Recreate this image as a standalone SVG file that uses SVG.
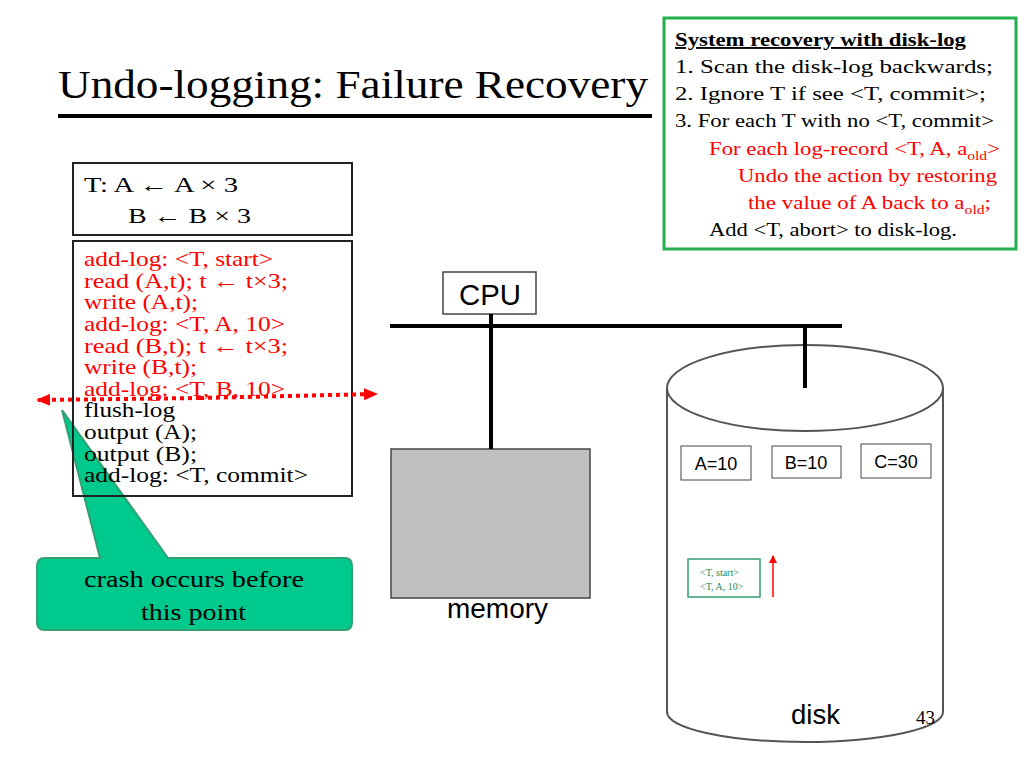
<svg xmlns="http://www.w3.org/2000/svg" width="1024" height="768" viewBox="0 0 1024 768">
<style>
.t{font-family:"Liberation Serif",serif;}
.s{font-family:"Liberation Sans",sans-serif;}
.r{fill:#ff0000}
</style>
<defs>
<marker id="ah" markerWidth="8" markerHeight="8" refX="7" refY="4" orient="auto" markerUnits="userSpaceOnUse"><path d="M0,0 L8,4 L0,8 z" fill="#ff0000"/></marker>
<marker id="ar" markerWidth="14" markerHeight="12" refX="12" refY="6" orient="auto" markerUnits="userSpaceOnUse"><path d="M0,0 L14,6 L0,12 z" fill="#ff0000"/></marker>
</defs>
<rect width="1024" height="768" fill="#fff"/>
<text class="t" x="58" y="98" font-size="41" textLength="590" lengthAdjust="spacingAndGlyphs">Undo-logging: Failure Recovery</text>
<line x1="58" y1="116" x2="652" y2="116" stroke="#000" stroke-width="4"/>
<g id="recovery">
<rect x="664" y="18" width="352" height="231" fill="#fff" stroke="#22b04c" stroke-width="3"/>
<text class="t" font-size="19" x="675" y="46" font-weight="bold" text-decoration="underline" textLength="291" lengthAdjust="spacingAndGlyphs">System recovery with disk-log</text>
<text class="t" font-size="19" x="675" y="73" textLength="318" lengthAdjust="spacingAndGlyphs">1. Scan the disk-log backwards;</text>
<text class="t" font-size="19" x="675" y="100" textLength="311" lengthAdjust="spacingAndGlyphs">2. Ignore T if see &lt;T, commit&gt;;</text>
<text class="t" font-size="19" x="675" y="127" textLength="319" lengthAdjust="spacingAndGlyphs">3. For each T with no &lt;T, commit&gt;</text>
<text class="t r" font-size="19" x="709" y="155" textLength="291" lengthAdjust="spacingAndGlyphs">For each log-record &lt;T, A, a<tspan font-size="13" dy="5">old</tspan><tspan dy="-5">&gt;</tspan></text>
<text class="t r" font-size="19" x="738" y="182" textLength="259" lengthAdjust="spacingAndGlyphs">Undo the action by restoring</text>
<text class="t r" font-size="19" x="748" y="209" textLength="243" lengthAdjust="spacingAndGlyphs">the value of A back to a<tspan font-size="13" dy="5">old</tspan><tspan dy="-5">;</tspan></text>
<text class="t" font-size="19" x="709" y="236" textLength="248" lengthAdjust="spacingAndGlyphs">Add &lt;T, abort&gt; to disk-log.</text>
</g>
<g id="txn">
<rect x="73" y="163" width="279" height="72" fill="#fff" stroke="#222" stroke-width="2"/>
<text class="t" font-size="22" x="84" y="192" textLength="154" lengthAdjust="spacingAndGlyphs">T:  A  ←  A × 3</text>
<text class="t" font-size="22" x="128" y="223" textLength="123" lengthAdjust="spacingAndGlyphs">B  ←  B × 3</text>
</g>
<g id="crash">
<path d="M37,566 Q37,558 45,558 L100,558 L62,410 L168,558 L345,558 Q352,558 352,566 L352,622 Q352,630 345,630 L45,630 Q37,630 37,622 Z" fill="#00c98e" stroke="#33a070" stroke-width="2"/>
<text class="t" font-size="24" x="84" y="587" textLength="220" lengthAdjust="spacingAndGlyphs">crash occurs before</text>
<text class="t" font-size="24" x="141" y="620" textLength="105" lengthAdjust="spacingAndGlyphs">this point</text>
</g>
<g id="steps">
<rect x="73" y="241" width="279" height="255" fill="none" stroke="#222" stroke-width="2"/>
<g class="t" font-size="22" lengthAdjust="spacingAndGlyphs">
<text class="r" x="84" y="266" textLength="189" lengthAdjust="spacingAndGlyphs">add-log: &lt;T, start&gt;</text>
<text class="r" x="84" y="288" textLength="204" lengthAdjust="spacingAndGlyphs">read (A,t);  t ← t×3;</text>
<text class="r" x="84" y="309" textLength="114" lengthAdjust="spacingAndGlyphs">write (A,t);</text>
<text class="r" x="84" y="331" textLength="201" lengthAdjust="spacingAndGlyphs">add-log: &lt;T, A, 10&gt;</text>
<text class="r" x="84" y="353" textLength="204" lengthAdjust="spacingAndGlyphs">read (B,t);  t ← t×3;</text>
<text class="r" x="84" y="374" textLength="113" lengthAdjust="spacingAndGlyphs">write (B,t);</text>
<text class="r" x="84" y="396" textLength="201" lengthAdjust="spacingAndGlyphs">add-log: &lt;T, B, 10&gt;</text>
<text x="84" y="417" textLength="91" lengthAdjust="spacingAndGlyphs">flush-log</text>
<text x="84" y="439" textLength="113" lengthAdjust="spacingAndGlyphs">output (A);</text>
<text x="84" y="461" textLength="113" lengthAdjust="spacingAndGlyphs">output (B);</text>
<text x="84" y="482" textLength="224" lengthAdjust="spacingAndGlyphs">add-log: &lt;T, commit&gt;</text>
</g>
</g>
<g id="cpu">
<rect x="443" y="272" width="93" height="42" fill="#fff" stroke="#444" stroke-width="1.5"/>
<text class="s" font-size="30" x="459" y="305" textLength="62" lengthAdjust="spacingAndGlyphs">CPU</text>
</g>
<g id="memory">
<rect x="391" y="449" width="199" height="149" fill="#c0c0c0" stroke="#444" stroke-width="1.5"/>
<text class="s" font-size="27" x="447" y="618" textLength="101" lengthAdjust="spacingAndGlyphs">memory</text>
</g>
<g id="disk">
<path d="M667,388 L667,712 A138,30 0 0 0 943,712 L943,388" fill="#fff" stroke="#555" stroke-width="2"/>
<ellipse cx="805" cy="388" rx="138" ry="43" fill="#fff" stroke="#555" stroke-width="2"/>
<rect x="681" y="446" width="70" height="34" fill="#fff" stroke="#444"/>
<text class="s" font-size="18" x="716" y="470" text-anchor="middle">A=10</text>
<rect x="772" y="446" width="69" height="32" fill="#fff" stroke="#444"/>
<text class="s" font-size="18" x="806" y="469" text-anchor="middle">B=10</text>
<rect x="861" y="444" width="70" height="34" fill="#fff" stroke="#444"/>
<text class="s" font-size="18" x="896" y="468" text-anchor="middle">C=30</text>
<rect x="688" y="559" width="72" height="38" fill="#fff" stroke="#33a070" stroke-width="1.5"/>
<text class="t" font-size="10" fill="#2a8a5a" x="700" y="576">&lt;T, start&gt;</text>
<text class="t" font-size="10" fill="#2a8a5a" x="700" y="590">&lt;T, A, 10&gt;</text>
<text class="s" font-size="27" x="791" y="724" textLength="49" lengthAdjust="spacingAndGlyphs">disk</text>
</g>
<text class="t" font-size="19" x="916" y="724">43</text>
<g id="connectors">
<line x1="390" y1="326" x2="842" y2="326" stroke="#000" stroke-width="4"/>
<line x1="491" y1="314" x2="491" y2="449" stroke="#000" stroke-width="4"/>
<line x1="805" y1="326" x2="805" y2="388" stroke="#000" stroke-width="4"/>
<line x1="773" y1="597" x2="773" y2="556" stroke="#ff0000" stroke-width="1.5" marker-end="url(#ah)"/>
<line x1="200" y1="398" x2="38" y2="400" stroke="#ff0000" stroke-width="4" stroke-dasharray="4,4" marker-end="url(#ar)"/>
<line x1="200" y1="398" x2="376" y2="394" stroke="#ff0000" stroke-width="4" stroke-dasharray="4,4" marker-end="url(#ar)"/>
</g>
</svg>
